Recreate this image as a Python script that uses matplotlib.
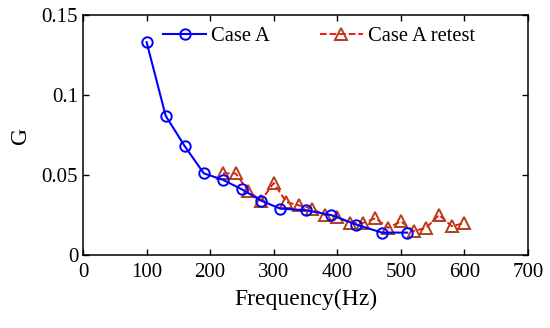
import matplotlib
matplotlib.use('Agg')
import matplotlib.pyplot as plt

# Case A (blue circles)
freq_a = [100, 130, 160, 190, 220, 250, 280, 310, 350, 390, 430, 470, 510]
g_a = [0.133, 0.087, 0.068, 0.051, 0.047, 0.041, 0.034, 0.029, 0.028, 0.025, 0.019, 0.014, 0.014]

# Case A retest (red dashed triangles)
freq_r = [220, 240, 260, 280, 300, 320, 340, 360, 380, 400, 420, 440, 460, 480, 500, 520, 540, 560, 580, 600]
g_r = [0.051, 0.051, 0.040, 0.034, 0.045, 0.033, 0.031, 0.029, 0.025, 0.024, 0.020, 0.020, 0.023, 0.017,
       0.021, 0.015, 0.017, 0.025, 0.018, 0.020]

xticks = [0, 100, 200, 300, 400, 500, 600, 700]
yticks = [0, 0.05, 0.1, 0.15]
ytick_labels = ['0', '0.05', '0.1', '0.15']

plt.rcParams['font.family'] = ['Liberation Serif', 'DejaVu Serif']

fig = plt.figure(figsize=(5.5, 3.28), dpi=100)
ax = fig.add_axes([0.151, 0.2226, 0.809, 0.7317])

ax.plot(freq_r, g_r, '--', color='#ff0000', lw=1.3, marker='^', ms=8.5,
        mfc='none', mec='#b0401a', mew=1.4, label='Case A retest', zorder=2)
ax.plot(freq_a, g_a, '-', color='#0000ff', lw=1.5, marker='o', ms=7.5,
        mfc='none', mec='#0000ff', mew=1.4, label='Case A', zorder=3)

ax.set_xlim(0, 700)
ax.set_ylim(0, 0.15)
ax.set_xticks(xticks)
ax.set_yticks(yticks)
ax.set_yticklabels(ytick_labels)
ax.tick_params(direction='in', top=True, right=True, labelsize=15, length=4, width=1)
ax.tick_params(axis='x', pad=6)
for s in ax.spines.values():
    s.set_linewidth(1.1)

ax.set_xlabel('Frequency(Hz)', fontsize=17, labelpad=5)
ax.set_ylabel('G', fontsize=17, labelpad=8)

h, l = ax.get_legend_handles_labels()
ax.legend(h[::-1], l[::-1], ncol=2, frameon=False, fontsize=14.8,
          loc='center left', bbox_to_anchor=(0.18, 0.91), borderpad=0,
          borderaxespad=0, handlelength=2.1, handletextpad=0.25, columnspacing=2.4)

fig.savefig('out.png', dpi=100)
